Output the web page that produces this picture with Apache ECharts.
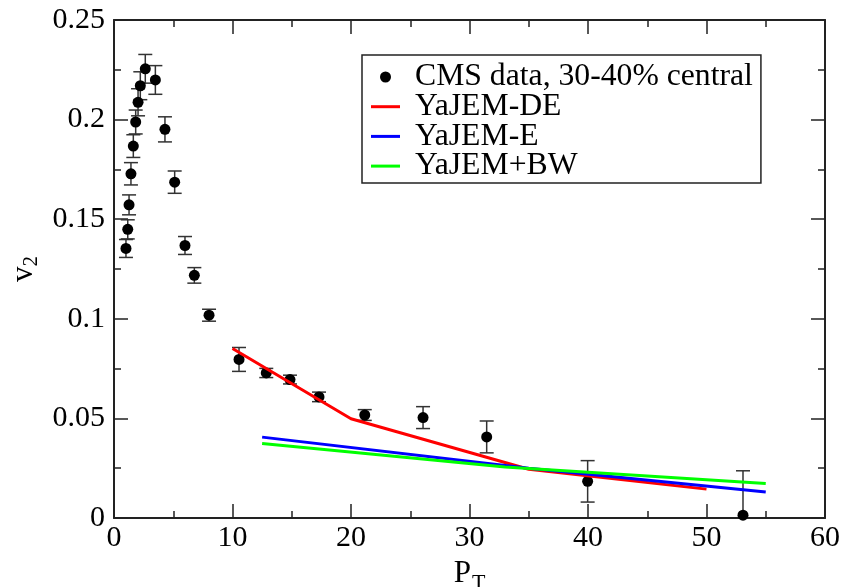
<!DOCTYPE html>
<html>
<head>
<meta charset="utf-8">
<script src="https://cdn.jsdelivr.net/npm/echarts@6/dist/echarts.min.js"></script>
<style>
html,body{margin:0;padding:0;background:#fff;}
#chart{width:843px;height:587px;}
</style>
</head>
<body>
<div id="chart"></div>
<script>
// CMS data, 30-40% central
var dataPt  = [1.01,1.16,1.27,1.43,1.63,1.83,2.03,2.22,2.64,3.49,4.30,5.12,5.99,6.78,8.02,10.55,12.85,14.85,17.3,21.16,26.08,31.45,39.97,53.08];
var dataV2  = [0.1353,0.1449,0.1572,0.1728,0.1867,0.1988,0.2087,0.2170,0.2255,0.2199,0.1951,0.1686,0.1368,0.1218,0.1018,0.0796,0.0728,0.0695,0.0608,0.0517,0.0504,0.0407,0.0184,0.0014];
var dataErr = [0.0045,0.0048,0.0050,0.0056,0.0057,0.0060,0.0068,0.0070,0.0072,0.0072,0.0063,0.0056,0.0045,0.0039,0.0030,0.0060,0.0023,0.0022,0.0024,0.0027,0.0055,0.0080,0.0104,0.0223];
// model curves
var deX = [10,20,35,50];
var deY = [0.0851,0.0498,0.0245,0.0145];
var eX  = [12.5,35,55];
var eY  = [0.0406,0.0250,0.0131];
var bwX = [12.5,33,55];
var bwY = [0.0374,0.0256,0.0173];
var xTicks = [0,10,20,30,40,50,60];
var yTicks = [0,0.05,0.1,0.15,0.2,0.25];

function zip(a,b){ return a.map(function(v,i){ return [v,b[i]]; }); }

var FONT = "'Liberation Serif', 'Times New Roman', 'DejaVu Serif', serif";
var axisCommon = {
  axisLine:{show:true, onZero:false, lineStyle:{color:'#222', width:2}},
  axisTick:{show:true, inside:true, length:14, lineStyle:{color:'#222', width:1.5}},
  minorTick:{show:true, splitNumber:2, length:7, lineStyle:{color:'#222', width:1.5}},
  splitLine:{show:false},
  minorSplitLine:{show:false}
};
function mk(base, extra){ var o = JSON.parse(JSON.stringify(base)); for (var k in extra) o[k]=extra[k]; return o; }
var LINE_ICON = 'path://M0,0H29V3H0Z';

var chart = echarts.init(document.getElementById('chart'), null, {renderer:'canvas'});
var option = {
  animation:false,
  backgroundColor:'#fff',
  grid:{left:114, right:18, top:20, bottom:69, containLabel:false, outerBoundsMode:'none'},
  xAxis:[
    mk(axisCommon, {type:'value', position:'bottom', min:xTicks[0], max:xTicks[xTicks.length-1], interval:10,
      axisLabel:{show:true, color:'#000', fontFamily:FONT, fontSize:30, margin:5},
      name:'{a|P}{b|T}', nameLocation:'middle', nameGap:32,
      nameTextStyle:{rich:{a:{fontFamily:FONT, fontSize:31, color:'#000'}, b:{fontFamily:FONT, fontSize:22, color:'#000', padding:[20,0,0,1]}}}
    }),
    mk(axisCommon, {type:'value', position:'top', min:0, max:60, interval:10, axisLabel:{show:false}})
  ],
  yAxis:[
    mk(axisCommon, {type:'value', position:'left', min:yTicks[0], max:yTicks[yTicks.length-1], interval:0.05,
      axisLabel:{show:true, color:'#000', fontFamily:FONT, fontSize:30, margin:9},
      name:'{a|v}{b|2}', nameLocation:'middle', nameGap:70, nameRotate:90,
      nameTextStyle:{rich:{a:{fontFamily:FONT, fontSize:31, color:'#000'}, b:{fontFamily:FONT, fontSize:21, color:'#000', padding:[14,0,0,0]}}}
    }),
    mk(axisCommon, {type:'value', position:'right', min:0, max:0.25, interval:0.05, axisLabel:{show:false}})
  ],
  legend:{
    show:true, orient:'vertical', left:362, top:55,
    backgroundColor:'#fff', borderColor:'#222', borderWidth:1.5,
    padding:[6,8,1,9], itemGap:-2.3, itemWidth:29, itemHeight:11, symbolKeepAspect:true,
    textStyle:{fontFamily:FONT, fontSize:31.7, color:'#000', lineHeight:29, padding:[0,0,0,10]},
    data:[
      {name:'CMS data, 30-40% central', icon:'circle'},
      {name:'YaJEM-DE', icon:LINE_ICON},
      {name:'YaJEM-E', icon:LINE_ICON},
      {name:'YaJEM+BW', icon:LINE_ICON}
    ]
  },
  series:[
    {
      name:'errbars', type:'custom', xAxisIndex:0, yAxisIndex:0, clip:true, z:2,
      data: dataPt.map(function(x,i){ return [x, dataV2[i]-dataErr[i], dataV2[i]+dataErr[i]]; }),
      renderItem:function(params, api){
        var x = api.value(0);
        var lo = api.coord([x, api.value(1)]);
        var hi = api.coord([x, api.value(2)]);
        var hw = 7;
        var st = {stroke:'#333', lineWidth:1.5};
        return {type:'group', children:[
          {type:'line', shape:{x1:lo[0], y1:lo[1], x2:hi[0], y2:hi[1]}, style:st},
          {type:'line', shape:{x1:lo[0]-hw, y1:lo[1], x2:lo[0]+hw, y2:lo[1]}, style:st},
          {type:'line', shape:{x1:hi[0]-hw, y1:hi[1], x2:hi[0]+hw, y2:hi[1]}, style:st}
        ]};
      }
    },
    {
      name:'CMS data, 30-40% central', type:'scatter', symbol:'circle', symbolSize:11,
      itemStyle:{color:'#000', opacity:1}, data: zip(dataPt, dataV2), z:3
    },
    {
      name:'YaJEM-DE', type:'line', data: zip(deX, deY), showSymbol:false, symbol:'none',
      lineStyle:{color:'#ff0000', width:3}, itemStyle:{color:'#ff0000'}, z:4
    },
    {
      name:'YaJEM-E', type:'line', data: zip(eX, eY), showSymbol:false, symbol:'none',
      lineStyle:{color:'#0000ff', width:3}, itemStyle:{color:'#0000ff'}, z:4
    },
    {
      name:'YaJEM+BW', type:'line', data: zip(bwX, bwY), showSymbol:false, symbol:'none',
      lineStyle:{color:'#00ff00', width:3}, itemStyle:{color:'#00ff00'}, z:4
    }
  ]
};
chart.setOption(option);
</script>
</body>
</html>
